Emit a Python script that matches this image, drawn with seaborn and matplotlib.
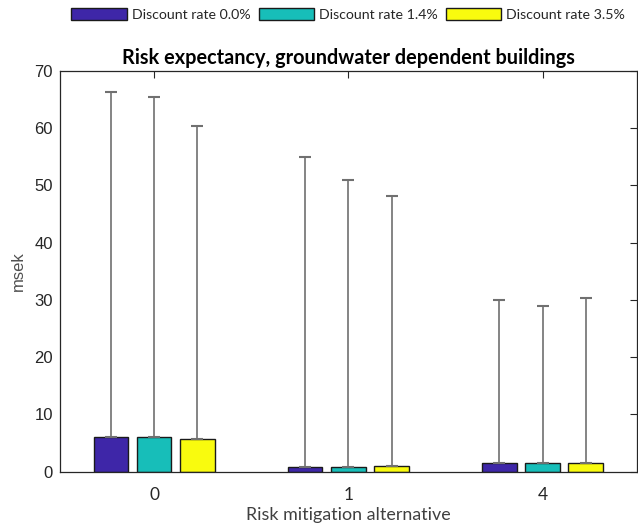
import matplotlib
matplotlib.use("Agg")
import matplotlib.pyplot as plt
import seaborn as sns
import pandas as pd
import numpy as np

alternatives = ["0", "1", "4"]
series = ["Discount rate 0.0%", "Discount rate 1.4%", "Discount rate 3.5%"]
means = {
    "Discount rate 0.0%": [6.1, 0.87, 1.52],
    "Discount rate 1.4%": [6.0, 0.87, 1.52],
    "Discount rate 3.5%": [5.8, 1.05, 1.47],
}
upper = {
    "Discount rate 0.0%": [66.4, 54.9, 30.0],
    "Discount rate 1.4%": [65.5, 50.9, 28.9],
    "Discount rate 3.5%": [60.4, 48.2, 30.3],
}
colors = ["#3E26A8", "#17BEB9", "#F9FB0E"]

rows = []
for s in series:
    for a, m, u in zip(alternatives, means[s], upper[s]):
        rows.append({"alt": a, "rate": s, "value": m, "upper": u})
df = pd.DataFrame(rows)

sns.set_style("white")
plt.rcParams["font.family"] = ["Lato", "DejaVu Sans"]

fig = plt.figure(figsize=(6.38, 5.26), dpi=100)
ax = fig.add_axes([0.094, 0.1032, 0.904, 0.762])

sns.barplot(data=df, x="alt", y="value", hue="rate", order=alternatives,
            hue_order=series, palette=colors, width=0.667, gap=0.2,
            errorbar=None, edgecolor="#1a1a1a", linewidth=1.0, saturation=1,
            ax=ax)

bar_containers = list(ax.containers)
for cont, s in zip(bar_containers, series):
    sub = df[df["rate"] == s].set_index("alt").loc[alternatives]
    xs = [p.get_x() + p.get_width() / 2 for p in cont.patches]
    vals = sub["value"].values
    ups = sub["upper"].values
    eb = ax.errorbar(xs, vals, yerr=[np.zeros_like(vals), ups - vals],
                     fmt="none", ecolor="#707070", elinewidth=1.2,
                     capsize=4, capthick=1.5, zorder=1)
    for cl in eb[1]:
        cl.set_color("#303030")

ax.set_xlim(-0.485, 2.485)
ax.set_ylim(0, 70)
ax.set_yticks(range(0, 71, 10))
for lab in ax.get_yticklabels():
    lab.set_fontfamily("Liberation Sans")
    lab.set_fontsize(12)
    lab.set_color("#262626")
for lab in ax.get_xticklabels():
    lab.set_fontsize(12.5)
    lab.set_color("#262626")
ax.tick_params(direction="in", length=5, top=True, right=True,
               color="#262626", width=0.8)
ax.tick_params(axis="y", pad=5)
ax.tick_params(axis="x", pad=11)
for sp in ax.spines.values():
    sp.set_visible(True)
    sp.set_color("#262626")
    sp.set_linewidth(0.9)

ax.set_ylabel("msek", family="Liberation Sans", fontsize=12, color="#505050",
              labelpad=6)
ax.set_xlabel("Risk mitigation alternative", fontsize=12.9, color="#404040",
              labelpad=3)
ax.set_title("Risk expectancy, groundwater dependent buildings",
             fontsize=14.3, fontweight="bold", color="black", pad=5)

leg = ax.get_legend()
if leg is not None:
    leg.remove()
fig.legend(handles=[c.patches[0] for c in bar_containers], labels=series,
           loc="center", bbox_to_anchor=(0.546, 0.972), ncol=3,
           frameon=False, fontsize=10.2, handlelength=3.9, handleheight=0.9,
           handletextpad=0.35, columnspacing=0.6, borderaxespad=0)

fig.savefig("out.png", dpi=100)
